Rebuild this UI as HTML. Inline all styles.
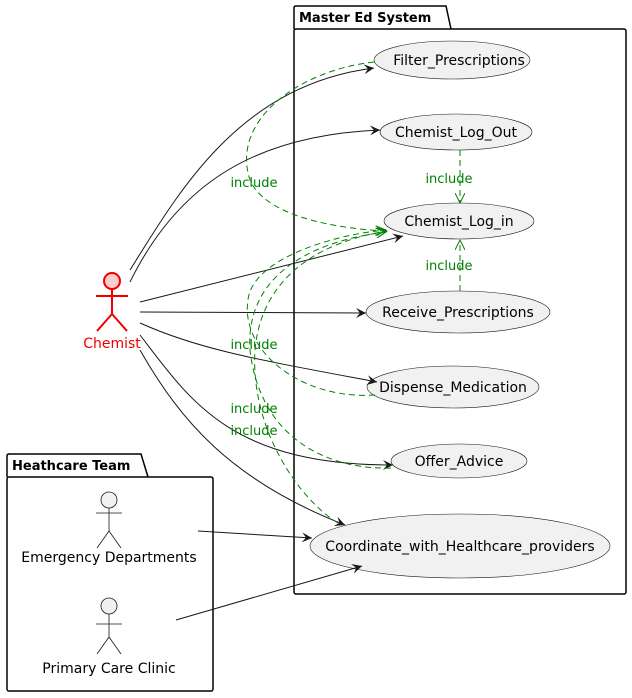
<!DOCTYPE html>
<html><head><style>body{margin:0;background:#fff}svg{display:block;font-family:"DejaVu Sans","Liberation Sans",sans-serif}</style></head><body>
<svg width="632" height="698" viewBox="0 0 632 698" xmlns="http://www.w3.org/2000/svg">
<defs>
<marker id="a" markerWidth="12" markerHeight="10" refX="10" refY="5" orient="auto" markerUnits="userSpaceOnUse"><path d="M0,0 L10,5 L0,10 L4,5 Z" fill="#181818"/></marker>
<marker id="g" markerWidth="12" markerHeight="10" refX="10" refY="5" orient="auto" markerUnits="userSpaceOnUse"><path d="M0,0 L10,5 L0,10" fill="none" stroke="#008000" stroke-width="1"/></marker>
</defs>
<path d="M294,29 L294,8 Q294,6 296,6 L446,6 L451,29" fill="#fff" stroke="#000" stroke-width="1.5"/>
<rect x="294" y="29" width="332" height="565" rx="2" fill="none" stroke="#000" stroke-width="1.5"/>
<text x="299" y="22" font-size="13" font-weight="bold">Master Ed System</text>
<path d="M7,477 L7,456 Q7,454 9,454 L141,454 L148,477" fill="#fff" stroke="#000" stroke-width="1.5"/>
<rect x="7" y="477" width="206" height="214" rx="2" fill="none" stroke="#000" stroke-width="1.5"/>
<text x="12" y="470" font-size="13" font-weight="bold">Heathcare Team</text>
<g fill="#f1f1f1" stroke="#181818" stroke-width="0.6">
<ellipse cx="452" cy="60" rx="78" ry="19"/>
<ellipse cx="456" cy="132" rx="76" ry="18"/>
<ellipse cx="459" cy="221" rx="75" ry="18"/>
<ellipse cx="458" cy="312" rx="92" ry="21"/>
<ellipse cx="453" cy="387" rx="86" ry="21"/>
<ellipse cx="459" cy="461" rx="68" ry="17"/>
<ellipse cx="460" cy="546" rx="150" ry="32"/>
</g>
<g font-size="14" fill="#000" text-anchor="middle">
<text x="459" y="65">Filter_Prescriptions</text>
<text x="456" y="137">Chemist_Log_Out</text>
<text x="459" y="226">Chemist_Log_in</text>
<text x="458" y="317">Receive_Prescriptions</text>
<text x="453" y="392">Dispense_Medication</text>
<text x="459" y="466">Offer_Advice</text>
<text x="460" y="551">Coordinate_with_Healthcare_providers</text>
</g>
<g stroke="#e00" stroke-width="2" fill="none">
<circle cx="112" cy="281" r="8" fill="#fcc"/>
<line x1="112" y1="289" x2="112" y2="314"/><line x1="96" y1="296" x2="128" y2="296"/>
<line x1="112" y1="314" x2="97" y2="331"/><line x1="112" y1="314" x2="127" y2="331"/>
</g>
<text x="112" y="348" font-size="14" fill="#e00" text-anchor="middle">Chemist</text>
<g stroke="#181818" stroke-width="0.8" fill="none">
<circle cx="109" cy="500" r="8" fill="#f1f1f1"/>
<line x1="109" y1="508" x2="109" y2="531"/><line x1="96" y1="513" x2="122" y2="513"/>
<line x1="109" y1="531" x2="97" y2="548"/><line x1="109" y1="531" x2="121" y2="548"/>
<circle cx="109" cy="606" r="8" fill="#f1f1f1"/>
<line x1="109" y1="614" x2="109" y2="637"/><line x1="96" y1="624" x2="122" y2="624"/>
<line x1="109" y1="637" x2="97" y2="654"/><line x1="109" y1="637" x2="121" y2="654"/>
</g>
<text x="109" y="562" font-size="14" text-anchor="middle">Emergency Departments</text>
<text x="109" y="673" font-size="14" text-anchor="middle">Primary Care Clinic</text>
<g stroke="#181818" stroke-width="1" fill="none" marker-end="url(#a)">
<path d="M130,270 C180,190 240,85 374,68"/>
<path d="M130,282 C180,180 260,135 380,130"/>
<path d="M140,302 L403,236"/>
<path d="M140,312 L366,313"/>
<path d="M140,323 C200,350 260,360 377,382"/>
<path d="M140,335 C190,400 230,465 393,465"/>
<path d="M140,350 C180,420 230,480 345,525"/>
<path d="M198,531 L312,538"/>
<path d="M176,620 L362,566"/>
</g>
<g stroke="#008000" stroke-width="1" fill="none" stroke-dasharray="6,4" marker-end="url(#g)">
<path d="M374,62 C300,70 230,120 250,180 C265,215 330,228 385,231"/>
<path d="M460,150 L460,203"/>
<path d="M460,291 L460,240"/>
<path d="M375,395 C300,400 240,350 248,300 C252,260 330,235 386,230"/>
<path d="M338,523 C300,500 250,430 255,350 C262,270 330,240 387,231"/>
<path d="M391,468 C330,470 260,440 250,350 C245,270 320,240 386,232"/>
</g>
<g fill="#008000" font-size="13" text-anchor="middle">
<text x="254" y="187">include</text>
<text x="449" y="183">include</text>
<text x="449" y="270">include</text>
<text x="254" y="349">include</text>
<text x="254" y="413">include</text>
<text x="254" y="435">include</text>
</g>
</svg>
</body></html>
